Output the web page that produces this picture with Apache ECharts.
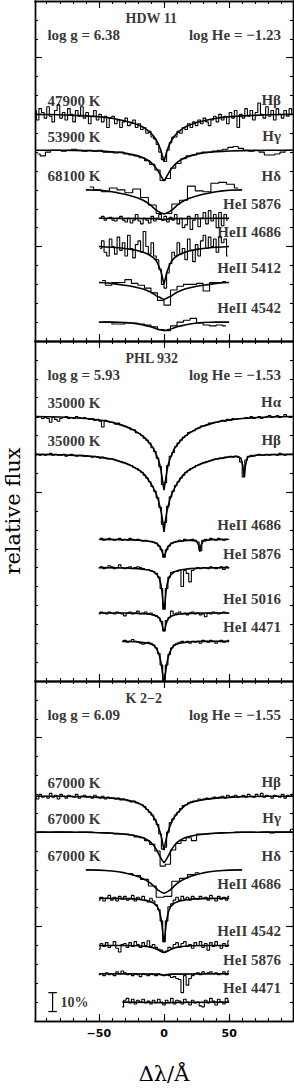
<!DOCTYPE html>
<html><head><meta charset="utf-8">
<script src="https://cdn.jsdelivr.net/npm/echarts@6/dist/echarts.min.js"></script>
<style>html,body{margin:0;padding:0;background:#fff}#c{width:294px;height:1088px}</style>
</head><body><div id="c"></div>
<script>
// ---------------- DATA ----------------
// wavelength grids for model profiles (Δλ in Å)
const G   = [-99,-80,-60,-50,-45,-40,-35,-30,-25,-20,-16,-13,-10,-8,-6,-4.5,-3,-2,-1,0,1,2,3,4.5,6,8,10,13,16,20,25,30,35,40,45,50,60,80,99];
const G60 = [-60,-50,-45,-40,-35,-30,-25,-20,-16,-13,-10,-8,-6,-4.5,-3,-2,-1,0,1,2,3,4.5,6,8,10,13,16,20,25,30,35,40,45,50,60];
const G50 = [-50,-45,-40,-35,-30,-25,-20,-16,-13,-10,-8,-6,-4.5,-3,-2,-1,0,1,2,3,4.5,6,8,10,13,16,20,25,30,35,40,45,50];
const NG  = [-50,-30,-20,-12,-8,-5,-3.5,-2.5,-1.5,-0.7,0,0.7,1.5,2.5,3.5,5,8,12,20,30,50];

// observed spectra sampling: [first Δλ, bin width]
const obsFull2 = [-99,2], obsFull4 = [-97,4], obsHalf2o = [-49,2], obsHalf2 = [-50,2], obsHalf5 = [-47.5,5], obsHd6 = [-57,6], obs4471 = [-32,2], obsCore6 = [-27,6];

// ---- HDW 11 ----
const hdwOffsets = [0.70, 0.51, 0.30, 0.15, 0.00, -0.19, -0.40];
const hdwLines = ['Hβ','Hγ','Hδ','HeI 5876','HeII 4686','HeII 5412','HeII 4542'];
const hdwTeff  = ['47900 K','53900 K','68100 K','','','',''];
const hdwHbModel = [1.0,0.998,0.992,0.987,0.984,0.979,0.973,0.965,0.957,0.945,0.932,0.918,0.9,0.885,0.865,0.845,0.82,0.8,0.775,0.75,0.775,0.8,0.82,0.845,0.865,0.885,0.9,0.918,0.932,0.945,0.957,0.965,0.973,0.979,0.984,0.987,0.992,0.998,1.0];
const hdwHbObs = [1.02,0.97,1.03,1.01,0.98,1.04,0.99,0.96,1.02,1.05,0.98,1.01,0.97,1.03,1.00,0.96,1.02,0.99,1.04,0.98,
 1.01,0.95,0.99,1.02,0.97,1.00,0.96,0.99,0.93,0.98, 0.99,0.95,0.97,0.93,0.96,0.98,0.94,0.95,0.97,0.93,
 0.95,0.92,0.93,0.90,0.91,0.88,0.87,0.84,0.80,0.76, 0.75,0.81,0.85,0.88,0.88,0.91,0.90,0.93,0.92,0.95,
 0.93,0.96,0.94,0.97,0.95,0.98,0.96,0.94,0.97,0.99, 0.96,1.00,0.97,0.99,0.95,1.01,0.98,1.02,0.93,1.00,
 0.98,1.03,0.99,1.02,0.97,1.01,1.06,1.00,0.98,1.04,0.99,1.02,0.97,1.03,1.00,0.98,1.02,0.99,1.03,1.00];
const hdwHgModel = [1,1,0.998,0.996,0.994,0.992,0.989,0.985,0.979,0.97,0.96,0.95,0.935,0.922,0.905,0.89,0.872,0.86,0.848,0.838,0.848,0.86,0.872,0.89,0.905,0.922,0.935,0.95,0.96,0.97,0.979,0.985,0.989,0.992,0.994,0.996,0.998,1,1];
const hdwHgObs = [0.98,0.97,0.99,1.00,1.00,0.995,1.0,1.005,1.0,0.995, 1.0,0.995,1.0,0.99,0.99,0.985,0.99,0.98,0.975,0.97,
 0.96,0.945,0.925,0.895,0.84, 0.85,0.905,0.93,0.955,0.97,0.975,0.985,0.99,0.99,0.995,
 1.0,1.005,1.015,1.02,1.01,1.0,0.995,1.0,0.99,0.975, 0.975,0.98,0.99,1.0,1.0];
const hdwHdModel = [1.0,0.998,0.995,0.99,0.984,0.977,0.968,0.957,0.945,0.933,0.918,0.905,0.893,0.886,0.881,0.877,0.875,0.873,0.875,0.877,0.881,0.886,0.893,0.905,0.918,0.933,0.945,0.957,0.968,0.977,0.984,0.99,0.995,0.998,1.0];
const hdwHdObs = [1.015,1.0,0.99,1.01,1.0,0.985,1.005,0.96,0.92,0.875,0.875,0.925,0.945,1.02,0.995,0.99,1.035,1.04,1.03,1.01];
const hdw5876X = [-50,-6,-3,0,3,6,50];
const hdw5876Model = [1,0.998,0.995,0.992,0.995,0.998,1];
const hdw5876Obs = [1.0,1.01,0.99,1.0,1.005,0.99,0.985,1.0,1.01,0.99, 0.98,1.0,0.975,0.99,1.02,0.985,0.97,1.0,0.99,0.975,
 1.01,0.985,1.0,1.02,0.99,1.01,0.98,1.005,0.99,1.02, 0.97,1.0,0.95,0.965,1.01,0.94,0.99,1.02,0.955,1.0,
 1.03,0.97,1.04,0.985,1.02,0.95,1.03,0.96,1.02,0.99];
const hdw4686Model = [1.0,0.998,0.996,0.994,0.99,0.985,0.978,0.97,0.962,0.95,0.94,0.925,0.905,0.88,0.86,0.83,0.80,0.83,0.86,0.88,0.905,0.925,0.94,0.95,0.962,0.97,0.978,0.985,0.99,0.994,0.996,0.998,1.0];
const hdw4686Obs = [0.99,1.03,0.97,0.95,1.04,1.0,0.96,1.05,0.98,1.02, 0.95,1.06,0.99,0.94,1.01,1.03,0.97,1.08,1.0,0.96,
 1.02,0.95,0.93,0.88,0.80, 0.78,0.86,0.91,0.97,0.95, 1.02,0.96,0.99,0.93,1.04,0.98,0.92,1.01,0.95,1.03,
 1.06,0.99,1.05,1.0,1.04,0.97,1.05,1.02,1.04,0.95];
const hdw5412Model = [1.0,0.998,0.995,0.99,0.985,0.98,0.972,0.965,0.957,0.948,0.94,0.93,0.925,0.92,0.916,0.913,0.91,0.913,0.916,0.92,0.925,0.93,0.94,0.948,0.957,0.965,0.972,0.98,0.985,0.99,0.995,0.998,1.0];
const hdw5412Obs = [1.01,0.985,1.0,1.0,1.015,0.995,0.985,0.97,0.945,0.905,0.88,0.96,0.98,0.99,0.99,0.995,0.955,1.0,1.0,1.005];
const hdw4542Model = [1,1,1,0.999,0.998,0.995,0.99,0.985,0.98,0.975,0.97,0.965,0.962,0.96,0.958,0.957,0.956,0.957,0.958,0.96,0.962,0.965,0.97,0.975,0.98,0.985,0.99,0.995,0.998,0.999,1,1,1];
const hdw4542Obs = [1.0,1.0,0.99,0.99,0.995,0.995,0.99,0.985,0.975,0.96,0.955,0.98,1.0,1.01,1.02,0.995,0.985,0.98,0.985,0.98];

// ---- PHL 932 ----
const phlOffsets = [0.40, 0.20, -0.25, -0.40, -0.64, -0.79];
const phlLines = ['Hα','Hβ','HeII 4686','HeI 5876','HeI 5016','HeI 4471'];
const phlTeff  = ['35000 K','35000 K','','','',''];
const phlHaModel = [1,0.998,0.99,0.982,0.977,0.97,0.96,0.95,0.935,0.915,0.895,0.875,0.85,0.83,0.8,0.775,0.74,0.7,0.655,0.61,0.655,0.7,0.74,0.775,0.8,0.83,0.85,0.875,0.895,0.915,0.935,0.95,0.96,0.97,0.977,0.982,0.99,0.998,1];
const phlHaObs = [1.0,0.995,1.0,0.99,0.995,0.99,0.97,0.995,0.985,0.975,0.99,0.995,1.0,0.99,0.995,0.99,1.0,0.995,0.99,0.995,
 0.99,0.985,0.99,0.98,0.985,0.975,0.945,0.98,0.975,0.97, 0.97,0.96,0.965,0.955,0.95,0.945,0.94,0.93,0.93,0.915,
 0.91,0.9,0.885,0.875,0.86,0.835,0.815,0.78,0.735,0.64, 0.65,0.74,0.79,0.81,0.84,0.86,0.875,0.89,0.9,0.915,
 0.92,0.925,0.935,0.94,0.95,0.95,0.955,0.965,0.965,0.97, 0.97,0.975,0.98,0.975,0.985,0.98,0.99,0.985,0.99,0.99,
 0.99,0.995,0.99,1.0,0.99,0.995,1.0,0.99,0.995,1.0,1.005,0.995,1.0,1.005,0.995,1.0,1.01,1.0,0.995,1.0];
const phlHbX = [-99,-80,-60,-50,-45,-40,-35,-30,-25,-20,-16,-13,-10,-8,-6,-4.5,-3,-2,-1,0,1,2,3,4.5,6,8,10,13,16,20,25,30,35,40,45,50,56,59,60.5,61.5,62.5,64,70,80,99];
const phlHbModel = [1,0.998,0.992,0.986,0.98,0.975,0.965,0.955,0.94,0.92,0.9,0.875,0.845,0.82,0.79,0.76,0.72,0.69,0.645,0.59,0.645,0.69,0.72,0.76,0.79,0.82,0.845,0.875,0.9,0.92,0.94,0.955,0.965,0.975,0.98,0.986,0.99,0.98,0.94,0.88,0.94,0.985,0.995,0.998,1];
const phlHbObs = [0.995,1.0,0.995,1.0,0.995,1.0,1.005,0.995,1.0,0.995,0.995,1.0,0.99,0.995,1.0,0.995,0.99,0.995,0.995,0.99,
 0.99,0.99,0.985,0.99,0.985,0.98,0.985,0.98,0.975,0.975, 0.975,0.97,0.965,0.96,0.955,0.95,0.945,0.94,0.93,0.925,
 0.915,0.905,0.89,0.875,0.855,0.83,0.805,0.77,0.72,0.63, 0.64,0.725,0.775,0.805,0.835,0.855,0.875,0.89,0.905,0.915,
 0.925,0.93,0.94,0.945,0.95,0.955,0.96,0.965,0.97,0.975, 0.975,0.98,0.98,0.985,0.985,0.99,0.985,0.99,0.985,0.96,
 0.88,0.97,0.99,0.995,0.99,0.995,1.0,0.995,0.995,1.0,0.995,1.0,1.0,0.995,1.005,1.0,0.995,1.0,1.0,1.0];
const phl4686X = [-49,-30,-20,-12,-8,-5,-3,-2,-1,0,1,2,3,5,8,12,20,25,26.5,27.5,28.5,30,35,49];
const phl4686Model = [1,0.998,0.996,0.99,0.985,0.975,0.96,0.945,0.925,0.905,0.925,0.945,0.96,0.975,0.985,0.99,0.996,0.99,0.97,0.935,0.97,0.99,0.998,1];
const phl4686Obs = [1.0,1.005,0.995,1.0,1.005,1.0,0.995,1.0,1.005,0.995, 1.0,0.995,1.005,1.0,0.995,1.0,0.995,0.99,0.995,0.99,
 0.99,0.985,0.98,0.965,0.945, 0.905, 0.945,0.965,0.98,0.985,0.99,
 0.995,0.99,1.0,0.995,0.995,1.0,0.995,0.985,0.94,0.995, 1.0,0.995,1.005,1.0,0.995,1.005,1.0,0.995,1.0,1.0];
const phl5876Model = [1,0.998,0.995,0.988,0.978,0.96,0.94,0.915,0.87,0.81,0.78,0.81,0.87,0.915,0.94,0.96,0.978,0.988,0.995,0.998,1];
const phl5876Obs = [1.0,1.005,0.995,1.0,1.01,1.005,0.995,1.0,1.015,1.0, 0.995,1.0,1.005,0.995,1.0,1.005,1.0,0.995,0.99,0.99,
 0.985,0.98,0.97,0.95,0.89, 0.78, 0.89,0.95,0.975,0.98,0.98,
 0.985,0.9,0.985,0.97,0.925,0.985,0.995,1.0,0.995,1.0, 1.0,0.995,1.005,1.0,0.995,1.0,1.005,0.99,1.005,1.0];
const phl5016Model = [1,1,0.998,0.995,0.99,0.982,0.972,0.96,0.94,0.915,0.903,0.915,0.94,0.96,0.972,0.982,0.99,0.995,0.998,1,1];
const phl5016Obs = [0.995,1.005,1.0,0.995,1.005,1.0,0.995,1.005,1.0,0.995, 0.985,1.0,1.005,0.995,1.0,1.01,0.995,1.0,1.005,0.995,
 1.0,0.99,0.985,0.975,0.955, 0.905, 0.96,0.975,1.01,0.995,1.0,
 1.005,0.995,1.0,0.99,1.0,1.005,0.995,1.0,0.99,0.995, 0.98,1.0,0.995,1.005,1.0,0.995,1.0,1.005,1.0,1.0];
const phl4471X = [-32,-20,-12,-8,-6,-4,-3,-2,-1.3,-0.6,0,0.6,1.3,2,3,4,6,8,12,20,30,50];
const phl4471Model = [1,0.998,0.99,0.98,0.965,0.935,0.91,0.875,0.84,0.805,0.79,0.805,0.84,0.875,0.91,0.935,0.965,0.98,0.99,0.998,1,1];
const phl4471Obs = [1.0,1.005,0.995,1.0,1.01,1.0,0.995,0.99,0.985,0.99, 0.995,0.99,0.98,0.965,0.935,0.875, 0.79,
 0.875,0.93,0.965,0.98,0.99,0.995, 1.0,0.995,1.0,0.99,1.0,0.995,1.0,0.99,1.005,1.0,
 0.995,1.005,1.0,0.99,1.0,1.005,0.995,1.0,1.005];

// ---- K 2-2 ----
const k22Offsets = [0.69, 0.50, 0.30, 0.15, -0.10, -0.25, -0.40];
const k22Lines = ['Hβ','Hγ','Hδ','HeII 4686','HeII 4542','HeI 5876','HeI 4471'];
const k22Teff  = ['67000 K','67000 K','67000 K','','','',''];
const k22HbModel = [1,1,0.997,0.994,0.992,0.99,0.986,0.982,0.975,0.965,0.95,0.93,0.91,0.89,0.865,0.84,0.81,0.785,0.75,0.715,0.75,0.785,0.81,0.84,0.865,0.89,0.91,0.93,0.95,0.965,0.975,0.982,0.986,0.99,0.992,0.994,0.997,1,1];
const k22HbObs = [1.0,0.985,1.01,0.995,1.0,0.99,1.015,0.995,1.005,0.985,1.01,1.0,0.99,1.005,1.0,0.995,1.01,0.99,1.0,1.005,
 0.995,1.0,0.99,1.005,0.995,0.99,1.0,0.985,0.995,0.99, 0.99,0.985,0.99,0.98,0.985,0.98,0.975,0.97,0.975,0.965,
 0.96,0.955,0.945,0.93,0.915,0.9,0.875,0.85,0.8,0.72, 0.73,0.81,0.86,0.88,0.9,0.915,0.935,0.95,0.955,0.965,
 0.97,0.975,0.975,0.985,0.98,0.985,0.99,0.985,0.99,0.995, 0.99,0.995,1.0,0.99,1.005,0.995,1.0,1.005,0.995,1.0,
 1.005,0.995,1.01,1.0,0.995,1.01,1.0,1.015,0.995,1.005,1.0,0.99,1.005,1.0,0.995,1.01,0.99,1.005,1.0,1.01];
const k22HgModel = [1,1,0.999,0.997,0.996,0.994,0.992,0.989,0.985,0.978,0.97,0.96,0.945,0.93,0.91,0.89,0.87,0.858,0.847,0.838,0.847,0.858,0.87,0.89,0.91,0.93,0.945,0.96,0.97,0.978,0.985,0.989,0.992,0.994,0.996,0.997,0.999,1,1];
const k22HgObs = [1.0,1.0,0.998,1.0,1.002,1.0,1.0,0.998,1.0,1.0, 1.0,0.998,0.997,0.996,0.995,0.99,0.99,0.99,0.985,0.975,
 0.97,0.955,0.935,0.9,0.82, 0.83,0.905,0.94,0.955,0.97,
 0.955,0.99,0.99,0.993,0.995,0.996,0.998,0.998,1.0,1.0, 1.0,1.0,0.998,1.0,1.0,0.995,1.0,1.0,1.0,1.015];
const k22HdModel = [1,0.999,0.997,0.994,0.99,0.984,0.976,0.965,0.953,0.942,0.928,0.915,0.902,0.893,0.886,0.882,0.879,0.877,0.879,0.882,0.886,0.893,0.902,0.915,0.928,0.942,0.953,0.965,0.976,0.984,0.99,0.994,0.997,0.999,1];
const k22HdObs = [0.98,0.97,0.95,0.915,0.855,0.86,0.94,0.955,0.975,0.985];
const k224686Model = [1,0.998,0.995,0.985,0.975,0.955,0.93,0.9,0.855,0.8,0.767,0.8,0.855,0.9,0.93,0.955,0.975,0.985,0.995,0.998,1];
const k224686Obs = [0.99,1.005,0.985,1.0,1.015,0.99,1.005,0.985,1.01,0.995, 1.01,0.99,1.0,1.015,0.985,1.005,0.995,1.01,0.99,0.98,
 1.0,0.985,0.965,0.94,0.88, 0.77, 0.88,0.955,0.97,0.99,1.005,
 0.99,1.01,0.995,1.005,0.99,1.01,1.0,0.995,1.01,1.0, 1.005,0.99,1.015,1.0,0.985,1.01,0.995,1.005,0.99,1.01];
const k224542X = [-50,-30,-20,-12,-8,-5,-3,-1.5,0,1.5,3,5,8,12,20,30,50];
const k224542Model = [1,1,0.998,0.993,0.987,0.978,0.97,0.965,0.963,0.965,0.97,0.978,0.987,0.993,0.998,1,1];
const k224542Obs = [0.98,1.01,0.995,1.015,0.99,1.0,1.02,0.985,0.965,1.005, 1.01,0.99,1.015,0.995,1.02,1.005,0.99,1.015,1.0,1.025,
 0.995,1.005,0.99,0.98,0.975, 0.965, 0.97,0.99,0.985,1.005,1.015,
 0.99,1.01,1.02,0.995,1.005,0.985,1.015,1.0,1.02,0.99, 1.01,0.975,1.015,0.995,1.02,1.0,0.985,1.01,0.995,1.025];
const k225876X = [-50,-5,0,5,50];
const k225876Model = [1,0.998,0.993,0.998,1];
const k225876Obs = [0.995,1.0,0.99,1.005,0.995,1.0,0.99,1.01,1.0,1.015, 1.005,0.995,1.0,0.99,1.0,0.995,0.985,1.0,0.995,0.99,
 1.0,0.995,0.99,1.0,0.995, 0.99, 0.995,0.99,0.98,0.985,0.975,
 0.97,0.9,0.99,0.94,0.975,0.99,1.0,1.005,0.995,1.01, 1.0,1.005,1.01,1.0,1.005,0.995,1.0,1.01,0.995,1.015];
const k224471X = [-32,-5,0,5,50];
const k224471Model = [1,0.998,0.995,0.998,1];
const k224471Obs = [0.975,1.01,1.02,0.995,1.015,0.99,1.01,1.0,1.015,0.995, 1.005,0.99,1.01,0.995,1.015,1.0, 0.985,
 1.01,0.995,1.02,0.99,1.01,1.005, 0.99,1.015,1.0,0.985,1.01,0.995,1.0,0.98,0.975,1.01,
 0.995,1.02,1.005,0.985,1.015,1.0,0.99,1.02,1.005];

// panel headers
const starNames = ['HDW 11','PHL 932','K 2−2'];
const loggText  = ['log g = 6.38','log g = 5.93','log g = 6.09'];
const logHeText = ['log He = −1.23','log He = −1.53','log He = −1.55'];
// axes
const xTickMinor = [-90,-80,-70,-60,-50,-40,-30,-20,-10,0,10,20,30,40,50,60,70,80,90];
const xTickMajor = [-50,0,50];
const xTickLabels = [-50,0,50];
const yRange = [[-0.5,1.3],[-1.0,0.8],[-0.5,1.3]];
const yTickMajor = [[0,1],[0],[0,1]];
const scaleBar = 0.10; // 10% flux

// ---------------- BUILD ----------------
const panels = [
 {off:hdwOffsets, lines:hdwLines, teff:hdwTeff, spec:[
   [G,hdwHbModel,obsFull2,hdwHbObs],[G,hdwHgModel,obsFull4,hdwHgObs],[G60,hdwHdModel,obsHd6,hdwHdObs],
   [hdw5876X,hdw5876Model,obsHalf2o,hdw5876Obs],[G50,hdw4686Model,obsHalf2o,hdw4686Obs],
   [G50,hdw5412Model,obsHalf5,hdw5412Obs],[G50,hdw4542Model,obsHalf5,hdw4542Obs]]},
 {off:phlOffsets, lines:phlLines, teff:phlTeff, spec:[
   [G,phlHaModel,obsFull2,phlHaObs],[phlHbX,phlHbModel,obsFull2,phlHbObs],[phl4686X,phl4686Model,obsHalf2,phl4686Obs],
   [NG,phl5876Model,obsHalf2,phl5876Obs],[NG,phl5016Model,obsHalf2,phl5016Obs],[phl4471X,phl4471Model,obs4471,phl4471Obs]]},
 {off:k22Offsets, lines:k22Lines, teff:k22Teff, spec:[
   [G,k22HbModel,obsFull2,k22HbObs],[G,k22HgModel,obsFull4,k22HgObs],[G60,k22HdModel,obsCore6,k22HdObs],
   [NG,k224686Model,obsHalf2,k224686Obs],[k224542X,k224542Model,obsHalf2,k224542Obs],
   [k225876X,k225876Model,obsHalf2,k225876Obs],[k224471X,k224471Model,obs4471,k224471Obs]]}
];

const GRID_TOP=[1,341,681], GRID_H=340, GRID_L=35, GRID_W=258;
const X_MIN=-99, X_MAX=99, LX=-89.5, RX=89.8, NX=-29.5;
const LABEL_FONT={fontFamily:'Liberation Serif',fontWeight:'bold',fontSize:15,color:'#000'};
const tickStyle={color:'#000',width:1.1};
const frameLine={show:true,onZero:false,lineStyle:{color:'#000',width:1.4}};

const grid=[], xAxis=[], yAxis=[], series=[];
function minorY(r){const a=[];for(let k=Math.round(r[0]*10)+1;k<Math.round(r[1]*10);k++)a.push(+(k/10).toFixed(1));return a;}

panels.forEach((p,g)=>{
  grid.push({left:GRID_L,top:GRID_TOP[g],width:GRID_W,height:GRID_H,show:false,containLabel:false,outerBoundsMode:'none'});
  const base={gridIndex:g,type:'value',min:X_MIN,max:X_MAX,axisLine:frameLine,splitLine:{show:false},axisLabel:{show:false}};
  [['bottom',xTickMinor,3],['bottom',xTickMajor,7],['top',xTickMinor,3],['top',xTickMajor,7]].forEach(([pos,vals,len],i)=>{
    const ax=Object.assign({},base,{position:pos,axisTick:{show:true,inside:true,length:len,customValues:vals,lineStyle:tickStyle}});
    if(g===2&&i===1){
      ax.axisLabel={show:true,customValues:xTickLabels,formatter:v=>String(v).replace('-','−'),fontFamily:'DejaVu Sans',fontWeight:'bold',fontSize:11,color:'#000',margin:7};
      ax.name='Δλ/Å';ax.nameLocation='middle';ax.nameGap=42;
      ax.nameTextStyle={fontFamily:'DejaVu Serif',fontSize:21,color:'#000'};
    }
    xAxis.push(ax);
  });
  const yb={gridIndex:g,type:'value',min:yRange[g][0],max:yRange[g][1],axisLine:frameLine,splitLine:{show:false},axisLabel:{show:false}};
  [['left',minorY(yRange[g]),3],['left',yTickMajor[g],7],['right',minorY(yRange[g]),3],['right',yTickMajor[g],7]].forEach(([pos,vals,len],i)=>{
    const ax=Object.assign({},yb,{position:pos,offset:0,axisTick:{show:true,inside:true,length:len,customValues:vals,lineStyle:tickStyle}});
    if(g===1&&i===0){
      ax.name='relative flux';ax.nameLocation='middle';ax.nameGap=12;ax.nameRotate=90;
      ax.nameTextStyle={fontFamily:'DejaVu Serif',fontSize:21,color:'#000'};
    }
    yAxis.push(ax);
  });
  const xi=g*4, yi=g*4;
  const labels=[];
  p.spec.forEach(([mx,my,og,oy],k)=>{
    const off=p.off[k];
    series.push({type:'line',xAxisIndex:xi,yAxisIndex:yi,symbol:'none',silent:true,z:3,
      lineStyle:{color:'#000',width:1.6},data:mx.map((x,i)=>[x,+(off+my[i]-1).toFixed(4)])});
    series.push({type:'line',xAxisIndex:xi,yAxisIndex:yi,symbol:'none',silent:true,step:'middle',z:2,
      lineStyle:{color:'#000',width:1.1},data:oy.map((v,i)=>[og[0]+i*og[1],+(off+v-1).toFixed(4)])});
    labels.push({value:[RX,off+0.075],label:{formatter:p.lines[k],align:'right'}});
    if(p.teff[k]) labels.push({value:[LX,off+0.072],label:{formatter:p.teff[k],align:'left'}});
  });
  const top=yRange[g][1];
  labels.push({value:[NX,top-0.09],label:{formatter:starNames[g],align:'left',fontSize:14}});
  labels.push({value:[LX,top-0.18],label:{formatter:loggText[g],align:'left'}});
  labels.push({value:[RX,top-0.18],label:{formatter:logHeText[g],align:'right'}});
  series.push({type:'scatter',xAxisIndex:xi,yAxisIndex:yi,symbolSize:1,silent:true,z:10,
    itemStyle:{color:'rgba(0,0,0,0)'},
    label:Object.assign({show:true,position:'inside',verticalAlign:'middle'},LABEL_FONT),data:labels});
});

// 10% scale bar in the K 2-2 panel
const barX=-85.5, barY=-0.40, serif=3.3;
const bx=8, by=8;
[[[barX,barY-scaleBar/2],[barX,barY+scaleBar/2]],
 [[barX-serif,barY-scaleBar/2],[barX+serif,barY-scaleBar/2]],
 [[barX-serif,barY+scaleBar/2],[barX+serif,barY+scaleBar/2]]].forEach(d=>{
  series.push({type:'line',xAxisIndex:bx,yAxisIndex:by,symbol:'none',silent:true,lineStyle:{color:'#000',width:1.2},data:d});
});
series.push({type:'scatter',xAxisIndex:bx,yAxisIndex:by,symbolSize:1,silent:true,itemStyle:{color:'rgba(0,0,0,0)'},
  label:Object.assign({show:true,position:'inside',verticalAlign:'middle',align:'left',formatter:'10%'},LABEL_FONT,{fontSize:14}),
  data:[[-79.5,barY]]});

const chart=echarts.init(document.getElementById('c'),null,{renderer:'svg',width:294,height:1088});
chart.setOption({animation:false,backgroundColor:'#fff',grid,xAxis,yAxis,series});
</script></body></html>
